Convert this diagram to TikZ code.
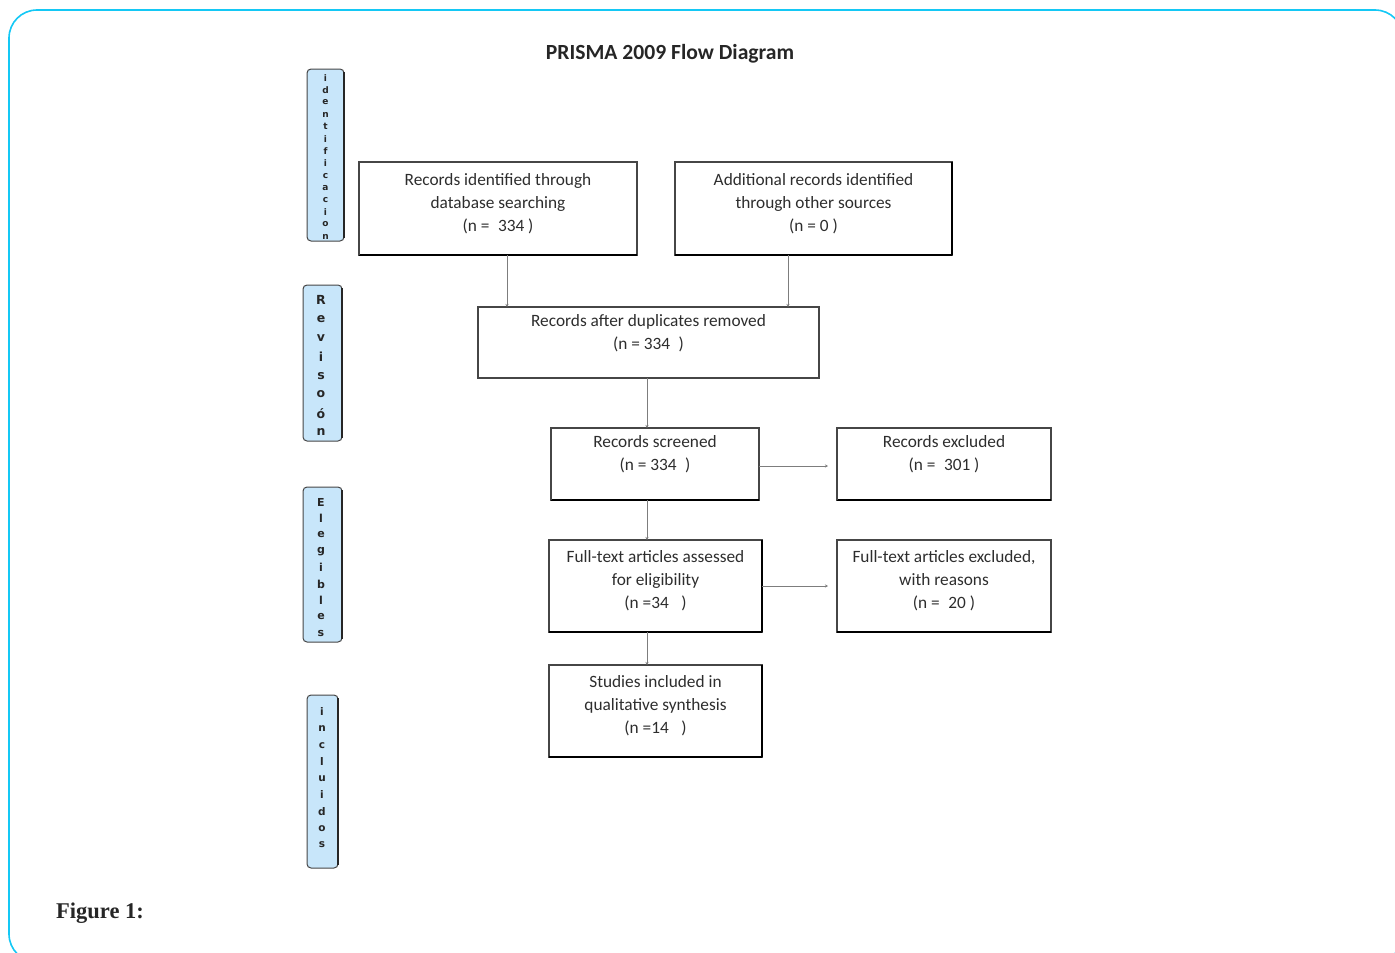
\documentclass[tikz,border=0pt]{standalone}
\usepackage{fontspec}
\setmainfont{Carlito}
\newfontfamily\sidefont{DejaVu Sans}
\newfontfamily\figfont{Liberation Serif}
\usetikzlibrary{arrows.meta,calc}
\definecolor{framec}{RGB}{20,200,245}
\definecolor{sidefill}{RGB}{200,230,250}
\definecolor{boxline}{RGB}{70,70,70}
\definecolor{txtgray}{RGB}{45,45,45}
\definecolor{arrgray}{RGB}{125,125,125}
\begin{document}
\begin{tikzpicture}[x=1pt,y=-1pt,
  box/.style={draw=boxline, line width=1.1pt, inner sep=0pt, outer sep=0pt, anchor=north west},
  txt/.style={align=center, text=txtgray, font=\fontsize{17.3}{23}\selectfont, inner sep=0pt},
  edge/.style={draw=black, line width=2.6pt},
  side/.style={draw=boxline, line width=1pt, fill=sidefill, rounded corners=4pt, inner sep=0pt, outer sep=0pt, anchor=north west},
  sideedge/.style={draw=black!85, line width=2pt},
  letter/.style={inner sep=0pt, text=black!85},
  arr/.style={draw=arrgray, line width=0.9pt, -{Stealth[length=3pt,width=3pt]}}]
\useasboundingbox (0,0) rectangle (1395,953);
\begin{scope}
\clip (0,0) rectangle (1395,953);
\draw[framec, line width=1.6pt, rounded corners=28pt] (9,10) rectangle (1403,962);
\end{scope}

% title
\node[font=\bfseries\fontsize{21.6}{24}\selectfont, text=black!85] (title) at (670,54) {PRISMA 2009 Flow Diagram};

% side labels
\node[side, minimum width=37pt, minimum height=172pt] (s1) at (307,69) {};
\draw[sideedge] ([yshift=-3pt]s1.north east) -- ([yshift=3pt]s1.south east);
\foreach \l [count=\i] in {i,d,e,n,t,i,f,i,c,a,c,i,o,n}
  \node[letter, font=\sidefont\bfseries\fontsize{9}{9}\selectfont] (sa\i) at (325.5,{78+(\i-1)*12.2}) {\l};

\node[side, minimum width=39pt, minimum height=156pt] (s2) at (303,285) {};
\draw[sideedge] ([yshift=-3pt]s2.north east) -- ([yshift=3pt]s2.south east);
\foreach \l [count=\i] in {R,e,v,i,s,o,ó,n}
  \node[letter, font=\sidefont\bfseries\fontsize{12.5}{13}\selectfont] (sb\i) at (321,{300+(\i-1)*18.9}) {\l};

\node[side, minimum width=39pt, minimum height=155pt] (s3) at (303,487) {};
\draw[sideedge] ([yshift=-3pt]s3.north east) -- ([yshift=3pt]s3.south east);
\foreach \l [count=\i] in {E,l,e,g,i,b,l,e,s}
  \node[letter, font=\sidefont\bfseries\fontsize{11}{11}\selectfont] (sc\i) at (321,{502+(\i-1)*16.4}) {\l};

\node[side, minimum width=31pt, minimum height=173pt] (s4) at (307,695) {};
\draw[sideedge] ([yshift=-3pt]s4.north east) -- ([yshift=3pt]s4.south east);
\foreach \l [count=\i] in {i,n,c,l,u,i,d,o,s}
  \node[letter, font=\sidefont\bfseries\fontsize{10.5}{11}\selectfont] (sd\i) at (322,{712+(\i-1)*16.6}) {\l};

% boxes
\node[box, minimum width=278pt, minimum height=93pt] (b1) at (359,162) {};
\node[txt] (t1) at ([yshift=5pt]b1.center) {Records identified through\\database searching\\(n =\enspace 334 )};
\draw[edge] (b1.south west) -- (b1.south east);
\draw[draw=boxline, line width=2pt] (b1.north west) -- (b1.south west);

\node[box, minimum width=277pt, minimum height=93pt] (b2) at (675,162) {};
\node[txt] (t2) at ([yshift=5pt]b2.center) {Additional records identified\\through other sources\\(n = 0 )};
\draw[edge] (b2.south west) -- (b2.south east);
\draw[edge] (b2.north east) -- (b2.south east);

\node[box, minimum width=341pt, minimum height=71pt] (b3) at (478,307) {};
\node[txt] (t3) at ([yshift=9pt]b3.center) {Records after duplicates removed\\(n = 334\enspace)};

\node[box, minimum width=208pt, minimum height=72pt] (b4) at (551,428) {};
\node[txt] (t4) at ([yshift=10pt]b4.center) {Records screened\\(n = 334\enspace)};
\draw[edge] (b4.south west) -- (b4.south east);
\draw[draw=boxline, line width=2pt] (b4.north west) -- (b4.south west);

\node[box, minimum width=214pt, minimum height=72pt] (b5) at (837,428) {};
\node[txt] (t5) at ([yshift=10pt]b5.center) {Records excluded\\(n =\enspace 301 )};
\draw[edge] (b5.south west) -- (b5.south east);
\draw[draw=boxline, line width=2pt] (b5.north west) -- (b5.south west);

\node[box, minimum width=213pt, minimum height=92pt] (b6) at (549,540) {};
\node[txt] (t6) at ([yshift=5pt]b6.center) {Full-text articles assessed\\for eligibility\\(n =34\enspace\ )};
\draw[draw=black, line width=2.2pt] (b6.north east) -- (b6.south east);
\draw[draw=black, line width=1.8pt] (b6.south west) -- (b6.south east);

\node[box, minimum width=214pt, minimum height=92pt] (b7) at (837,540) {};
\node[txt] (t7) at ([yshift=5pt]b7.center) {Full-text articles excluded,\\with reasons\\(n =\enspace 20 )};
\draw[draw=boxline, line width=2pt] (b7.north west) -- (b7.south west);
\draw[draw=black, line width=1.8pt] (b7.south west) -- (b7.south east);

\node[box, minimum width=213pt, minimum height=92pt] (b8) at (549,665) {};
\node[txt] (t8) at ([yshift=5pt]b8.center) {Studies included in\\qualitative synthesis\\(n =14\enspace\ )};
\draw[draw=black, line width=2.2pt] (b8.north east) -- (b8.south east);
\draw[draw=black, line width=1.8pt] (b8.south west) -- (b8.south east);

% connectors
\draw[arr] ([xshift=9pt]b1.south) -- ([xshift=9pt]b1.south |- b3.north);
\draw[arr] ([xshift=-25.5pt]b2.south) -- ([xshift=-25.5pt]b2.south |- b3.north);
\draw[arr] ([xshift=-1.5pt]b3.south) -- ([xshift=-1.5pt]b3.south |- b4.north);
\draw[arr, shorten >=9pt] ([yshift=-2pt]b4.east) -- ([yshift=-2pt]b4.east -| b5.west);
\draw[arr] ([xshift=-1.5pt]b3.south |- b4.south) -- ([xshift=-1.5pt]b3.south |- b6.north);
\draw[arr, shorten >=9pt] (b6.east) -- (b6.east -| b7.west);
\draw[arr] ([xshift=-1.5pt]b3.south |- b6.south) -- ([xshift=-1.5pt]b3.south |- b8.north);

% caption
\node[anchor=west, font=\figfont\bfseries\fontsize{22.5}{24}\selectfont, text=black!85, inner sep=0pt] (fig) at (56,913) {Figure 1:};
\end{tikzpicture}
\end{document}
